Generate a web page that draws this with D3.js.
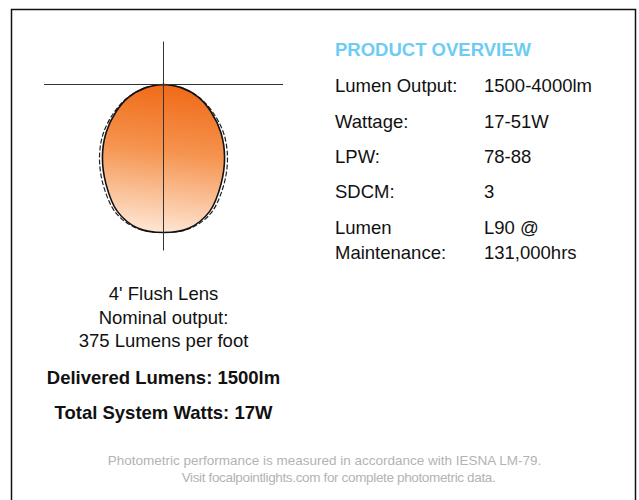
<!DOCTYPE html>
<html>
<head>
<meta charset="utf-8">
<script src="https://cdn.jsdelivr.net/npm/d3@7"></script>
<style>
  body { margin: 0; background: #fff; }
  text { font-family: "Liberation Sans", Arial, Helvetica, sans-serif; }
</style>
</head>
<body>
<div id="chart"></div>
<script>
// photometric data (relative candela)
var angles = [0, 10, 20, 30, 40, 50, 60, 70, 80, 90];
var candela0 = [592, 584, 540, 460, 380, 300, 220, 148, 72, 0];   // solid plane
var candela90 = [592, 586, 550, 476, 398, 318, 232, 152, 72, 0];  // dashed plane

var specLabels = [["Lumen Output:"], ["Wattage:"], ["LPW:"], ["SDCM:"], ["Lumen", "Maintenance:"]];
var specValues = [["1500-4000lm"], ["17-51W"], ["78-88"], ["3"], ["L90 @", "131,000hrs"]];

var captionLines = ["4' Flush Lens", "Nominal output:", "375 Lumens per foot"];
var boldLines = ["Delivered Lumens: 1500lm", "Total System Watts: 17W"];
var footerLines = ["Photometric performance is measured in accordance with IESNA LM-79.",
                   "Visit focalpointlights.com for complete photometric data."];

var width = 639, height = 500;

var svg = d3.select("#chart").append("svg")
  .attr("width", width)
  .attr("height", height);

// outer frame (bottom edge runs off the picture)
svg.append("rect")
  .attr("x", 11.5).attr("y", 9.5)
  .attr("width", 624).attr("height", 520)
  .attr("fill", "none")
  .attr("stroke", "#111")
  .attr("stroke-width", 1.5);

// polar plot
var cx = 163.5, cy = 84.5;
var r = d3.scaleLinear().domain([0, 600]).range([0, 150]);

var defs = svg.append("defs");
var grad = defs.append("linearGradient")
  .attr("id", "glow")
  .attr("x1", "0.55").attr("y1", "0")
  .attr("x2", "0.45").attr("y2", "1");
grad.append("stop").attr("offset", "0%").attr("stop-color", "#f06a18");
grad.append("stop").attr("offset", "45%").attr("stop-color", "#f5944f");
grad.append("stop").attr("offset", "100%").attr("stop-color", "#fee6d4");

function polarPoints(values){
  // left half from 90 down to 0, then right half 0 up to 90 (angle measured from nadir)
  var pts = [];
  for (var i = angles.length - 1; i >= 0; i--){
    pts.push([Math.PI + angles[i] * Math.PI / 180, r(values[i])]);
  }
  for (var j = 1; j < angles.length; j++){
    pts.push([Math.PI - angles[j] * Math.PI / 180, r(values[j])]);
  }
  return pts;
}

var radial = d3.lineRadial()
  .angle(function(d){ return d[0]; })
  .radius(function(d){ return d[1]; })
  .curve(d3.curveCatmullRomClosed);

var plot = svg.append("g").attr("transform", "translate(" + cx + "," + cy + ")");

plot.append("path")
  .attr("d", radial(polarPoints(candela90)))
  .attr("fill", "none")
  .attr("stroke", "#222")
  .attr("stroke-width", 1.2)
  .attr("stroke-dasharray", "5,2");

plot.append("path")
  .attr("d", radial(polarPoints(candela0)))
  .attr("fill", "url(#glow)")
  .attr("stroke", "#111")
  .attr("stroke-width", 1.6);

// crosshair
plot.append("line")
  .attr("x1", -119.5).attr("x2", 119.5).attr("y1", 0).attr("y2", 0)
  .attr("stroke", "#333").attr("stroke-width", 1);
plot.append("line")
  .attr("x1", 0).attr("x2", 0).attr("y1", -43).attr("y2", 166)
  .attr("stroke", "#333").attr("stroke-width", 1);

// caption under the plot
svg.selectAll(".cap").data(captionLines).enter().append("text")
  .attr("class", "cap")
  .attr("x", cx)
  .attr("y", function(d, i){ return 300 + i * 23.5; })
  .attr("text-anchor", "middle")
  .attr("font-size", "18.5px")
  .attr("fill", "#111")
  .text(function(d){ return d; });

svg.selectAll(".bold").data(boldLines).enter().append("text")
  .attr("class", "bold")
  .attr("x", cx)
  .attr("y", function(d, i){ return 384 + i * 34.5; })
  .attr("text-anchor", "middle")
  .attr("font-size", "18.5px")
  .attr("font-weight", "bold")
  .attr("fill", "#111")
  .text(function(d){ return d; });

// product overview
svg.append("text")
  .attr("x", 335).attr("y", 56)
  .attr("font-size", "18.5px")
  .attr("font-weight", "bold")
  .attr("fill", "#6cccf4")
  .text("PRODUCT OVERVIEW");

var rowY = [92, 127.5, 163, 198, 234];

function rows(data, x, cls){
  var t = svg.selectAll("." + cls).data(data).enter().append("text")
    .attr("class", cls)
    .attr("x", x)
    .attr("y", function(d, i){ return rowY[i]; })
    .attr("font-size", "18.5px")
    .attr("fill", "#111");
  t.selectAll("tspan").data(function(d){ return d; }).enter().append("tspan")
    .attr("x", x)
    .attr("dy", function(d, i){ return i === 0 ? 0 : 25; })
    .text(function(d){ return d; });
}
rows(specLabels, 335, "lab");
rows(specValues, 484, "val");

// footer
var footX = [324.5, 338.5];
var footSpacing = [0, -0.35];
svg.selectAll(".foot").data(footerLines).enter().append("text")
  .attr("class", "foot")
  .attr("x", function(d, i){ return footX[i]; })
  .attr("y", function(d, i){ return 465 + i * 17; })
  .attr("text-anchor", "middle")
  .attr("font-size", "13.5px")
  .attr("letter-spacing", function(d, i){ return footSpacing[i] + "px"; })
  .attr("fill", "#b3b3b3")
  .text(function(d){ return d; });
</script>
</body>
</html>
